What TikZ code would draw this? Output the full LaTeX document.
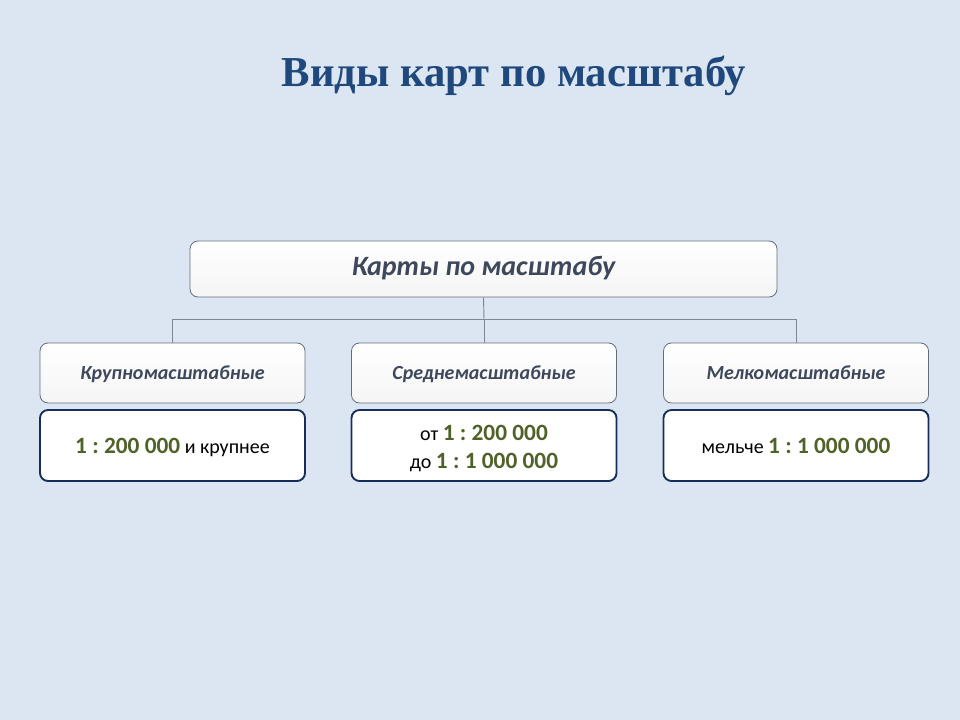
\documentclass[tikz,border=0pt]{standalone}
\usepackage{fontspec}
\setmainfont{Liberation Serif}
\newfontfamily\carlito{Carlito}
\usepackage{xcolor}
\usepackage{tikz}
\definecolor{slidebg}{RGB}{220,230,242}
\definecolor{titleblue}{RGB}{31,73,125}
\definecolor{headgray}{RGB}{62,72,92}
\definecolor{framenavy}{RGB}{23,45,90}
\definecolor{scalegreen}{RGB}{79,98,40}
\definecolor{linkgray}{RGB}{125,135,150}
\newcommand\scaleval[1]{\textcolor{scalegreen}{\bfseries\fontsize{17.5}{21}\selectfont #1}}
\newcommand\lowered[1]{\raisebox{-2.4pt}[\height][\depth]{#1}}
\frenchspacing

\begin{document}
\begin{tikzpicture}[x=0.75pt,y=-0.75pt,
    head/.style={draw=headgray!80, line width=0.6pt, rounded corners=6pt, top color=white, bottom color=gray!8, text=headgray, align=center, inner sep=0pt},
    scalebox/.style={draw=framenavy, line width=1.4pt, rounded corners=6pt, fill=white, minimum width=198.75pt, minimum height=53.25pt, font=\carlito\fontsize{15}{21}\selectfont, align=center, inner sep=0pt},
    scaleline/.style={scalebox, text height=11.7pt, text depth=0pt}
]
\fill[slidebg] (0,0) rectangle (960,720);

\node[font=\fontsize{32}{38}\selectfont\bfseries, text=titleblue] (title) at (514,75.5) {Виды карт по масштабу};

\node[head, minimum width=440.25pt, minimum height=42pt, text height=12pt, text depth=1.5pt, font=\carlito\bfseries\itshape\fontsize{21}{25}\selectfont] (maps) at (483.5,269) {Карты по масштабу};

\node[head, minimum width=198.75pt, minimum height=45pt, text height=10pt, text depth=0.6pt, font=\carlito\bfseries\itshape\fontsize{15}{18}\selectfont] (large) at (172.5,373) {Крупномасштабные};
\node[head, minimum width=198.75pt, minimum height=45pt, text height=10pt, text depth=0.6pt, font=\carlito\bfseries\itshape\fontsize{15}{18}\selectfont] (medium) at (484,373) {Среднемасштабные};
\node[head, minimum width=198.75pt, minimum height=45pt, text height=10pt, text depth=0.6pt, font=\carlito\bfseries\itshape\fontsize{15}{18}\selectfont] (small) at (796,373) {Мелкомасштабные};

\node[scaleline] (largesc) at (172.5,445.5) {\scaleval{1 : 200 000} и крупнее};
\node[scalebox] (mediumsc) at (484,445.5) {\lowered{от \scaleval{1 : 200 000}}\\\lowered{до \scaleval{1 : 1 000 000}}};
\node[scaleline] (smallsc) at (796,445.5) {мельче \scaleval{1 : 1 000 000}};

\coordinate (bus) at (484,319);
\draw[linkgray, line width=0.7pt] (maps.south) -- (bus);
\draw[linkgray, line width=0.7pt] (bus) -| (large.north);
\draw[linkgray, line width=0.7pt] (bus) -- (medium.north);
\draw[linkgray, line width=0.7pt] (bus) -| (small.north);
\end{tikzpicture}
\end{document}
